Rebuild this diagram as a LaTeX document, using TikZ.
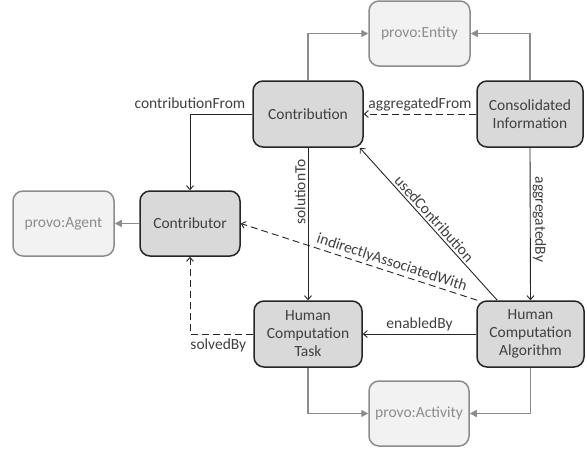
\documentclass[tikz,border=0pt]{standalone}
\usepackage{fontspec}
\setmainfont{Carlito}
\usetikzlibrary{arrows.meta}
\definecolor{dtext}{HTML}{404040}
\definecolor{dborder}{HTML}{262626}
\definecolor{dfill}{HTML}{D9D9D9}
\definecolor{gborder}{HTML}{8C8C8C}
\definecolor{gfill}{HTML}{F2F2F2}
\definecolor{gtext}{HTML}{8C8C8C}
\definecolor{lineblack}{HTML}{262626}
\begin{document}
\begin{tikzpicture}[x=1pt,y=-1pt,
  every node/.style={font=\fontsize{15.5}{18}\selectfont},
  mainbox/.style={draw=dborder, fill=dfill, line width=1.5pt, rounded corners=10pt, text=dtext, align=center, inner sep=0pt},
  provobox/.style={draw=gborder, fill=gfill, line width=1.5pt, rounded corners=10pt, text=gtext, align=center, inner sep=0pt},
  rel/.style={draw=lineblack, line width=0.9pt, -{Straight Barb[length=4pt,width=7pt]}},
  reldash/.style={rel, dash pattern=on 7pt off 4pt},
  sub/.style={draw=gborder, line width=1.3pt, -{Triangle[length=7pt,width=7pt]}},
  lbl/.style={text=dtext, inner sep=2pt}]
\useasboundingbox (0,0) rectangle (587,453);
\node[provobox, minimum width=101pt, minimum height=65pt] (entity) at (419.5,33.5) {provo:Entity};
\node[mainbox, minimum width=110pt, minimum height=66pt] (contribution) at (308,114) {Contribution};
\node[mainbox, minimum width=106pt, minimum height=66pt] (consolidated) at (530,114) {Consolidated\\Information};
\node[mainbox, minimum width=100pt, minimum height=65pt] (contributor) at (190,223.5) {Contributor};
\node[provobox, minimum width=101pt, minimum height=65pt] (agent) at (63.5,223.5) {provo:Agent};
\node[mainbox, minimum width=108pt, minimum height=66pt] (hct) at (308,334) {Human\\Computation\\Task};
\node[mainbox, minimum width=107pt, minimum height=66pt] (hca) at (530.5,334) {Human\\Computation\\Algorithm};
\node[provobox, minimum width=100pt, minimum height=65pt] (activity) at (419,413.5) {provo:Activity};
% subclass relations
\draw[sub] (contribution.north) |- (entity.west);
\draw[sub] (consolidated.north) |- (entity.east);
\draw[sub] (hct.south) |- (activity.west);
\draw[sub] (hca.south) |- (activity.east);
\draw[sub] (contributor.west) -- (agent.east);
% object properties
\draw[reldash] (consolidated.west) -- node[lbl, above] {aggregatedFrom} (contribution.east);
\draw[rel] (contribution.west) -| node[lbl, pos=0.5, above, yshift=3pt] {contributionFrom} (contributor.north);
\draw[rel] (contribution.south) -- node[lbl, pos=0.29, rotate=90, anchor=south, yshift=0pt] {solutionTo} (hct.north);
\draw[rel] (consolidated.south) -- node[lbl, pos=0.47, rotate=-90, anchor=south] {aggregatedBy} (hca.south |- hca.north);
\coordinate (hcaA) at ([xshift=21pt]hca.north west);
\coordinate (hcaB) at ([xshift=1pt]hca.north west);
\coordinate (contribSE) at ([xshift=-4pt]contribution.south east);
\draw[rel] (hcaA) -- node[lbl, sloped, above] {usedContribution} (contribSE);
\draw[reldash] (hcaB) -- node[lbl, sloped, above, pos=0.373] {indirectlyAssociatedWith} (contributor.east);
\draw[rel] (hca.west) -- node[lbl, above, yshift=1pt] {enabledBy} (hct.east);
\draw[reldash] (hct.west) -| node[lbl, pos=0.5, anchor=north west, inner xsep=0pt, yshift=-2pt] {solvedBy} (contributor.south);
\end{tikzpicture}
\end{document}
